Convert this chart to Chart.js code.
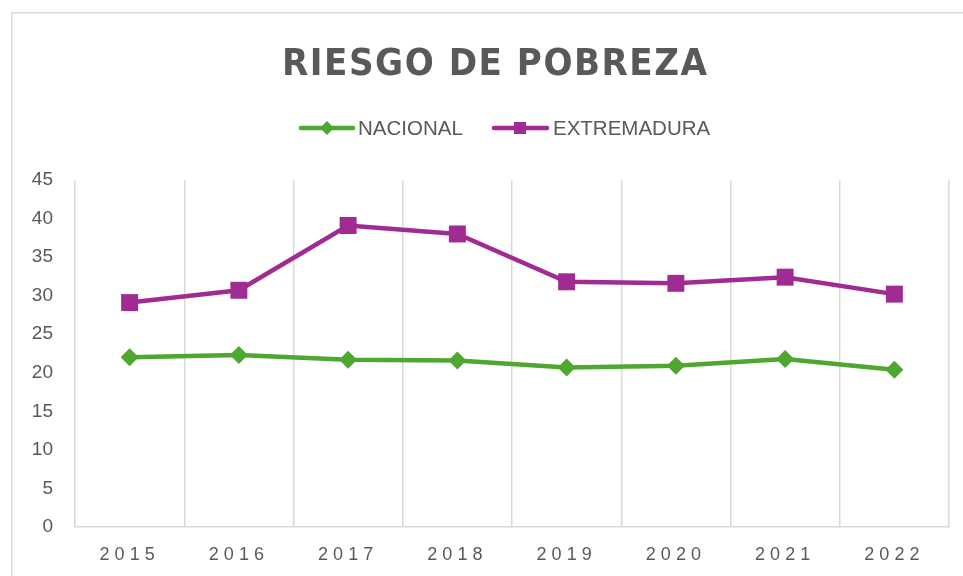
<!DOCTYPE html>
<html><head><meta charset="utf-8">
<script src="https://cdn.jsdelivr.net/npm/chart.js@4.4.1/dist/chart.umd.min.js"></script>
<style>html,body{margin:0;padding:0;background:#fff;overflow:hidden}#wrap{position:relative;width:963px;height:576px}</style>
</head><body><div id="wrap"><canvas id="c" width="963" height="576"></canvas></div>
<script>
const chartTitle = 'RIESGO DE POBREZA';
const categories = ['2015', '2016', '2017', '2018', '2019', '2020', '2021', '2022'];
const seriesNames = ['NACIONAL', 'EXTREMADURA'];
const nacional = [22.0, 22.3, 21.7, 21.6, 20.7, 20.9, 21.8, 20.4];
const extremadura = [29.1, 30.7, 39.1, 38.0, 31.8, 31.6, 32.4, 30.2];
const yMin = 0, yMax = 45, yStep = 5;

const GREEN = '#4EA72E', MAGENTA = '#A02B93', TEXT = '#595959', GRID = '#d9d9d9';
const FONT = "'Liberation Sans', Arial, sans-serif";
const NARROW = "'Liberation Sans Narrow', 'DejaVu Sans Condensed', 'Liberation Sans', Arial, sans-serif";

const deco = {
  id: 'deco',
  beforeDraw(chart) {
    const ctx = chart.ctx;
    ctx.save();
    ctx.fillStyle = '#fff';
    ctx.fillRect(0, 0, chart.width, chart.height);
    ctx.strokeStyle = GRID;
    ctx.lineWidth = 1.5;
    ctx.strokeRect(11.75, 12.75, 1200, 1200);
    ctx.restore();
    const s = chart.scales.x;
    if (s && !s._lsPatched) {
      const orig = s.drawLabels.bind(s);
      s.drawLabels = function (ca) {
        const c = this.ctx;
        c.save();
        c.letterSpacing = '5px';
        orig(ca);
        c.restore();
      };
      s._lsPatched = true;
    }
  },
  afterDraw(chart) {
    const ctx = chart.ctx;
    ctx.save();
    // title
    ctx.font = "bold 38px " + NARROW;
    ctx.letterSpacing = '0px';
    const w0 = ctx.measureText(chartTitle).width;
    const target = 425;
    const sp = Math.max(0, (target - w0) / (chartTitle.length - 1));
    ctx.letterSpacing = sp + 'px';
    ctx.fillStyle = TEXT;
    ctx.textAlign = 'left';
    ctx.textBaseline = 'alphabetic';
    ctx.fillText(chartTitle, 494.5 - target / 2, 75);
    ctx.letterSpacing = '0px';
    // legend
    const ly = 128;
    ctx.lineWidth = 4.5;
    ctx.lineCap = 'round';
    ctx.strokeStyle = GREEN;
    ctx.beginPath(); ctx.moveTo(301, ly); ctx.lineTo(353, ly); ctx.stroke();
    ctx.fillStyle = GREEN;
    ctx.beginPath(); ctx.moveTo(327, ly - 7); ctx.lineTo(334, ly); ctx.lineTo(327, ly + 7); ctx.lineTo(320, ly); ctx.closePath(); ctx.fill();
    ctx.strokeStyle = MAGENTA;
    ctx.beginPath(); ctx.moveTo(494, ly); ctx.lineTo(547, ly); ctx.stroke();
    ctx.fillStyle = MAGENTA;
    ctx.fillRect(514, ly - 6, 12, 12);
    ctx.font = "20.5px " + FONT;
    ctx.fillStyle = TEXT;
    ctx.textBaseline = 'middle';
    ctx.fillText(seriesNames[0], 358, ly + 1);
    ctx.fillText(seriesNames[1], 553, ly + 1);
    ctx.restore();
  }
};

new Chart(document.getElementById('c'), {
  type: 'line',
  data: {
    labels: categories,
    datasets: [
      { label: seriesNames[0], data: nacional, borderColor: GREEN, backgroundColor: GREEN, borderWidth: 4.5,
        pointStyle: 'rectRot', pointRadius: 9, pointHoverRadius: 9, pointBorderWidth: 0, tension: 0 },
      { label: seriesNames[1], data: extremadura, borderColor: MAGENTA, backgroundColor: MAGENTA, borderWidth: 4.5,
        pointStyle: 'rect', pointRadius: 12, pointHoverRadius: 12, pointBorderWidth: 0, tension: 0 }
    ]
  },
  options: {
    responsive: false,
    animation: false,
    layout: { padding: { top: 180, right: 14, left: 0, bottom: 0 } },
    plugins: { legend: { display: false }, title: { display: false }, tooltip: { enabled: false } },
    scales: {
      x: {
        offset: true,
        grid: { display: true, offset: true, color: GRID, lineWidth: 1.5, drawTicks: false },
        border: { display: true, color: GRID, width: 1.5 },
        ticks: { color: TEXT, font: { size: 18, family: FONT }, padding: 17, maxRotation: 0 },
        afterFit(s) { s.height = 49; }
      },
      y: {
        min: yMin, max: yMax,
        grid: { display: false, drawTicks: false },
        border: { display: false },
        ticks: { stepSize: yStep, color: TEXT, font: { size: 19, family: FONT }, padding: 22 },
        afterFit(s) { s.width = 75; }
      }
    }
  },
  plugins: [deco]
});
</script>
</body></html>
